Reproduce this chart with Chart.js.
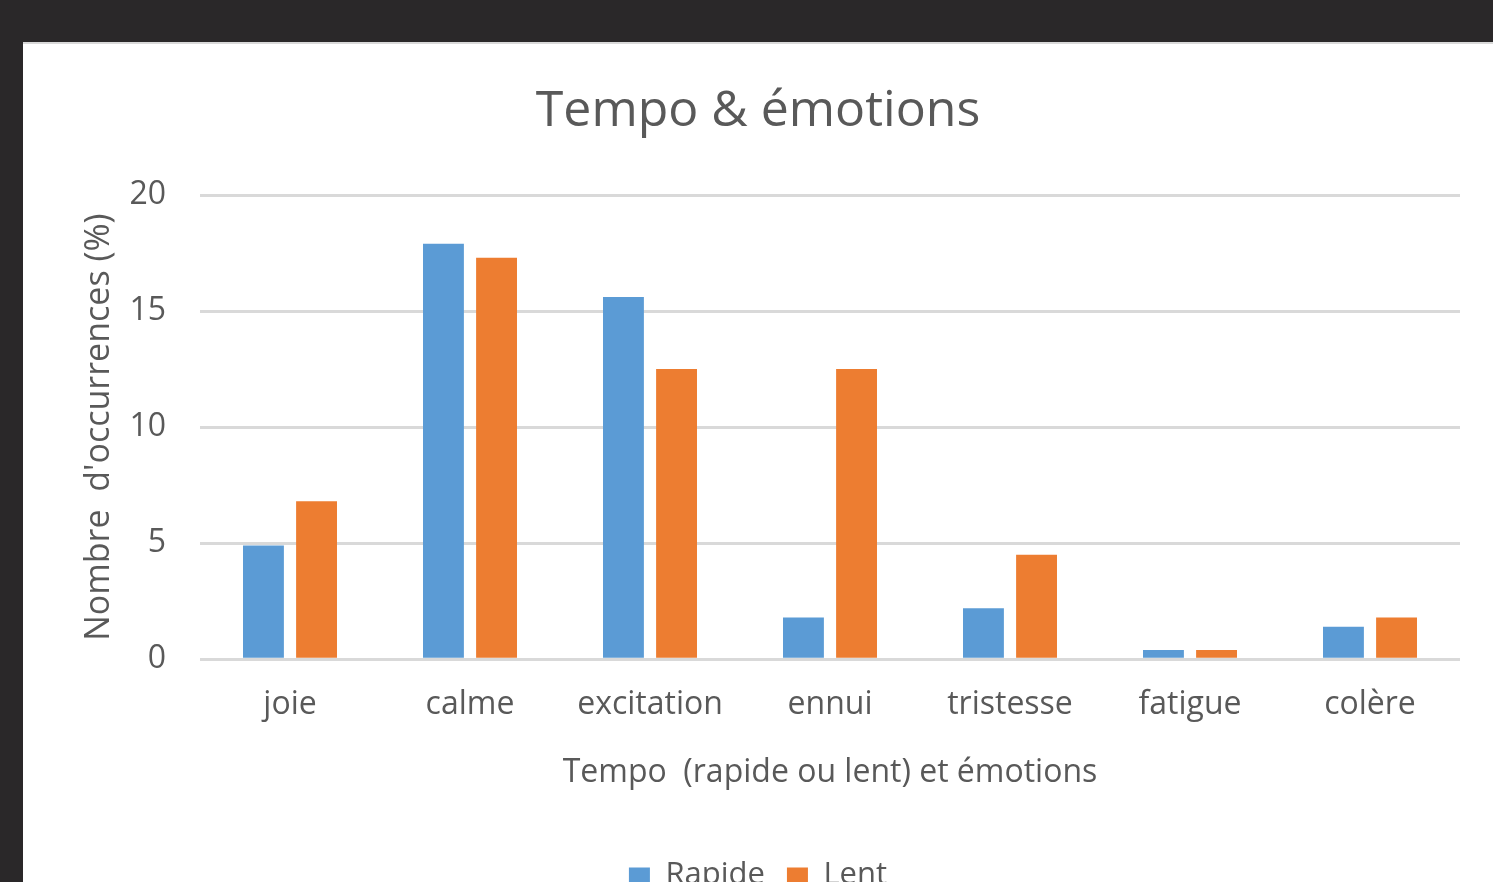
<!DOCTYPE html>
<html>
<head>
<meta charset="utf-8">
<script src="https://cdn.jsdelivr.net/npm/chart.js@4"></script>
<style>
  html, body { margin: 0; padding: 0; background: #2a2829; overflow: hidden; }
  #panel {
    position: absolute; left: 23px; top: 42px;
    width: 1470px; height: 880px;
    background: #fff; border-top: 2px solid #d9d9d9;
  }
  canvas { display: block; }
</style>
</head>
<body>
<div id="panel"><canvas id="chart" width="1470" height="880"></canvas></div>
<script>
const categories = ['joie', 'calme', 'excitation', 'ennui', 'tristesse', 'fatigue', 'colère'];
const rapide = [4.9, 17.9, 15.6, 1.8, 2.2, 0.4, 1.4];
const lent = [6.8, 17.3, 12.5, 12.5, 4.5, 0.4, 1.8];
const yTicks = [0, 5, 10, 15, 20];

const textColor = '#595959';
const fontFamily = '"Open Sans", Lato, sans-serif';

const ctx = document.getElementById('chart').getContext('2d');
new Chart(ctx, {
    type: 'bar',
    data: {
        labels: categories,
        datasets: [
            { label: 'Rapide', data: rapide, backgroundColor: '#5b9bd5' },
            { label: 'Lent', data: lent, backgroundColor: '#ed7d31' }
        ]
    },
    options: {
        responsive: false,
        animation: false,
        datasets: { bar: { categoryPercentage: 0.59, barPercentage: 0.77 } },
        layout: { padding: { left: 33, right: 33, top: 0, bottom: 23 } },
        plugins: {
            title: {
                display: true,
                text: 'Tempo & émotions',
                color: textColor,
                font: { family: fontFamily, size: 50, weight: 'normal' },
                padding: { top: 38, bottom: 53 }
            },
            legend: {
                position: 'bottom',
                labels: {
                    color: textColor,
                    font: { family: fontFamily, size: 31 },
                    boxWidth: 21,
                    boxHeight: 16,
                    padding: 22
                }
            },
            tooltip: { enabled: false }
        },
        scales: {
            x: {
                grid: { display: false, drawTicks: false },
                border: { display: false },
                ticks: {
                    color: textColor,
                    font: { family: fontFamily, size: 32 },
                    padding: 26,
                    maxRotation: 0
                },
                title: {
                    display: true,
                    text: 'Tempo  (rapide ou lent) et émotions',
                    color: textColor,
                    font: { family: fontFamily, size: 32 },
                    padding: { top: 4, bottom: 46 }
                }
            },
            y: {
                min: 0,
                max: 20,
                afterBuildTicks: s => { s.ticks = yTicks.map(v => ({ value: v })); },
                grid: { color: '#d9d9d9', lineWidth: 3, drawTicks: false },
                border: { display: false },
                ticks: {
                    color: textColor,
                    font: { family: fontFamily, size: 32 },
                    padding: 34
                },
                title: {
                    display: true,
                    text: "Nombre  d'occurrences (%)",
                    color: textColor,
                    font: { family: fontFamily, size: 34 },
                    padding: { top: 23, bottom: 0 }
                },
                afterFit: s => { s.width = 144; }
            }
        }
    }
});
</script>
</body>
</html>
